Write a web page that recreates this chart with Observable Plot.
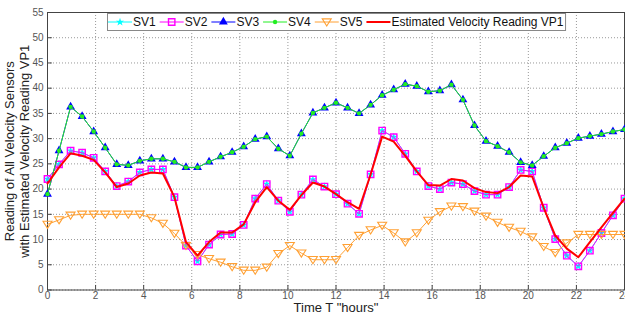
<!DOCTYPE html>
<html><head><meta charset="utf-8">
<script src="https://cdn.jsdelivr.net/npm/d3@7"></script>
<script src="https://cdn.jsdelivr.net/npm/@observablehq/plot@0.6"></script>
<style>
body{margin:0;background:#fff;font-family:"Liberation Sans",Arial,sans-serif;}
#wrap{position:relative;width:625px;height:316px;}
</style></head><body><div id="wrap"></div>
<script>
const times = [0,0.48,0.96,1.44,1.92,2.4,2.88,3.36,3.84,4.32,4.8,5.28,5.76,6.24,6.72,7.2,7.68,8.16,8.64,9.12,9.6,10.08,10.56,11.04,11.52,12,12.48,12.96,13.44,13.92,14.4,14.88,15.36,15.84,16.32,16.8,17.28,17.76,18.24,18.72,19.2,19.68,20.16,20.64,21.12,21.6,22.08,22.56,23.04,23.52,24];
const sv1 = [22.0,24.9,27.6,27.2,26.2,23.5,20.6,21.5,23.3,23.9,23.9,18.4,8.8,5.7,9.0,11.0,11.1,12.9,18.1,21.0,17.7,15.5,18.9,21.9,20.5,19.0,17.1,15.1,22.9,31.6,30.3,27.0,23.5,20.6,20.0,21.3,21.0,19.6,18.9,18.9,20.4,23.8,23.5,16.3,10.1,6.8,4.7,7.8,11.3,14.8,18.1];
const sv2 = [22.0,24.9,27.6,27.2,26.2,23.5,20.6,21.5,23.3,23.9,23.9,18.4,8.8,5.7,9.0,11.0,11.1,12.9,18.1,21.0,17.7,15.5,18.9,21.9,20.5,19.0,17.1,15.1,22.9,31.6,30.3,27.0,23.5,20.6,20.0,21.3,21.0,19.6,18.9,18.9,20.4,23.8,23.5,16.3,10.1,6.8,4.7,7.8,11.3,14.8,18.1];
const sv3 = [19.0,27.6,36.3,34.4,31.4,28.2,24.9,24.7,25.6,26.0,26.0,25.4,24.3,24.3,25.4,26.4,27.3,28.4,29.9,30.4,28.0,26.6,31.0,35.1,36.1,37.1,36.1,35.0,36.7,38.6,39.7,40.8,40.4,39.3,39.5,40.7,37.7,32.6,29.5,28.5,27.3,25.3,24.7,26.5,28.2,29.1,30.1,30.5,30.9,31.4,31.8];
const sv4 = [19.0,27.6,36.3,34.4,31.4,28.2,24.9,24.7,25.6,26.0,26.0,25.4,24.3,24.3,25.4,26.4,27.3,28.4,29.9,30.4,28.0,26.6,31.0,35.1,36.1,37.1,36.1,35.0,36.7,38.6,39.7,40.8,40.4,39.3,39.5,40.7,37.7,32.6,29.5,28.5,27.3,25.3,24.7,26.5,28.2,29.1,30.1,30.5,30.9,31.4,31.8];
const sv5 = [13.0,13.9,14.8,15.0,15.0,15.0,15.0,15.0,15.0,14.3,13.2,11.2,8.8,7.0,6.2,5.5,4.6,3.9,3.9,4.5,7.2,8.8,7.3,6.0,6.0,6.0,8.4,10.8,11.9,12.8,11.3,9.5,11.3,13.8,15.5,16.6,16.5,15.6,14.6,13.4,12.4,11.6,10.5,8.6,7.4,9.3,11.0,11.0,11.0,11.0,11.0];
const vp1 = [21.1,24.3,27.1,26.6,25.8,23.3,20.4,21.1,22.7,23.3,23.1,18.4,9.5,6.8,9.5,11.4,11.4,13.0,17.4,20.4,17.7,15.9,18.8,21.3,20.5,19.0,17.4,16.1,22.9,30.4,29.4,26.6,23.5,20.8,20.7,22.0,21.7,20.2,19.4,19.2,20.4,22.7,22.5,16.3,10.8,8.2,6.5,9.5,12.4,15.3,18.1];
const xTicks = [0,2,4,6,8,10,12,14,16,18,20,22,24];
const yTicks = [0,5,10,15,20,25,30,35,40,45,50,55];
const seriesNames = ["SV1","SV2","SV3","SV4","SV5","Estimated Velocity Reading VP1"];
const xLabel = 'Time T "hours"';
const yLabel = "Reading of All Velocity Sensors\nwith Estimated Velocity Reading VP1";

const downTri = {draw(ctx, size){const s=Math.sqrt(size/1.3);ctx.moveTo(0,s*0.75);ctx.lineTo(s*0.85,-s*0.6);ctx.lineTo(-s*0.85,-s*0.6);ctx.closePath();}};
const styles = [
  {color:"#00ffff", w:1, symbol:"star", d3sym:d3.symbolStar, r:2.6, fill:"#00ffff", stroke:"none"},
  {color:"#ff00ff", w:1, symbol:"square", d3sym:d3.symbolSquare, r:3.6, fill:"none", stroke:"#ff00ff", sw:1.4},
  {color:"#0000ff", w:1, symbol:"triangle", d3sym:d3.symbolTriangle, r:3.3, fill:"#0000ff", stroke:"none"},
  {color:"#22ee22", w:1, symbol:"circle", d3sym:d3.symbolCircle, r:2.2, fill:"#22ee22", stroke:"none"},
  {color:"#ffa033", w:1, symbol:downTri, d3sym:downTri, r:3.4, fill:"none", stroke:"#ffa033", sw:1.1},
  {color:"#ff0000", w:2, symbol:null}
];
const allSeries = [sv1,sv2,sv3,sv4,sv5,vp1];
const rows = v => v.map((y,i)=>({t:times[i], v:y}));

const marks = [
  Plot.gridX(xTicks,{stroke:"#999",strokeOpacity:1,strokeDasharray:"1,2"}),
  Plot.gridY(yTicks,{stroke:"#999",strokeOpacity:1,strokeDasharray:"1,2"}),
  Plot.ruleX(xTicks,{y1:0,y2:0.9,stroke:"#444"}),
  Plot.ruleY(yTicks,{x1:0,x2:0.2,stroke:"#444"}),
  Plot.frame({stroke:"#444"}),
  Plot.axisX({ticks:xTicks,tickSize:0,tickPadding:2,fontSize:10,fill:"#555",label:null}),
  Plot.axisY({ticks:yTicks,tickSize:0,tickPadding:4,fontSize:10,fill:"#555",label:null}),
  Plot.text([xLabel],{frameAnchor:"bottom",dy:13,lineAnchor:"top",textAnchor:"middle",fontSize:13,fill:"#222"}),
  Plot.text([yLabel],{frameAnchor:"left",rotate:-90,dx:-45,lineAnchor:"top",textAnchor:"middle",fontSize:13,fill:"#222",lineHeight:1.2})
];
allSeries.forEach((s,k)=>{
  const st = styles[k];
  const d = rows(s);
  marks.push(Plot.line(d,{x:"t",y:"v",stroke:st.color,strokeWidth:st.w}));
  if (st.symbol) marks.push(Plot.dot(d,{x:"t",y:"v",symbol:st.symbol,r:st.r,fill:st.fill,stroke:st.stroke,strokeWidth:st.sw||1}));
});

const chart = Plot.plot({
  width:625, height:316,
  marginLeft:47, marginRight:1, marginTop:12, marginBottom:26.5,
  x:{domain:[0,24]}, y:{domain:[0,55]},
  style:{fontFamily:'"Liberation Sans",Arial,sans-serif',background:"white",overflow:"visible"},
  marks
});
document.getElementById("wrap").appendChild(chart);

// legend overlay
const leg = d3.select("#wrap").append("svg").attr("width",625).attr("height",316)
  .style("position","absolute").style("left","0px").style("top","0px").style("pointer-events","none")
  .style("font-family",'"Liberation Sans",Arial,sans-serif');
const box = leg.append("rect").attr("x",107.5).attr("y",13.5).attr("height",17).attr("fill","white").attr("stroke","#888");
let lx = 108;
const cy = 22;
seriesNames.forEach((name,k)=>{
  const st = styles[k];
  leg.append("line").attr("x1",lx).attr("x2",lx+24).attr("y1",cy).attr("y2",cy).attr("stroke",st.color).attr("stroke-width",st.w);
  if (st.symbol) {
    leg.append("path").attr("d",d3.symbol(st.d3sym, st.r*st.r*Math.PI)()).attr("transform",`translate(${lx+12},${cy})`)
      .attr("fill",st.fill).attr("stroke",st.stroke).attr("stroke-width",st.sw||1);
  }
  const t = leg.append("text").attr("x",lx+25).attr("y",cy).attr("dy","0.36em").attr("font-size",12).attr("fill","#111").text(name);
  const end = lx + 25 + t.node().getComputedTextLength();
  lx = end + 4;
  if (k === seriesNames.length-1) box.attr("width", end + 2 - 107.5);
});
</script></body></html>
